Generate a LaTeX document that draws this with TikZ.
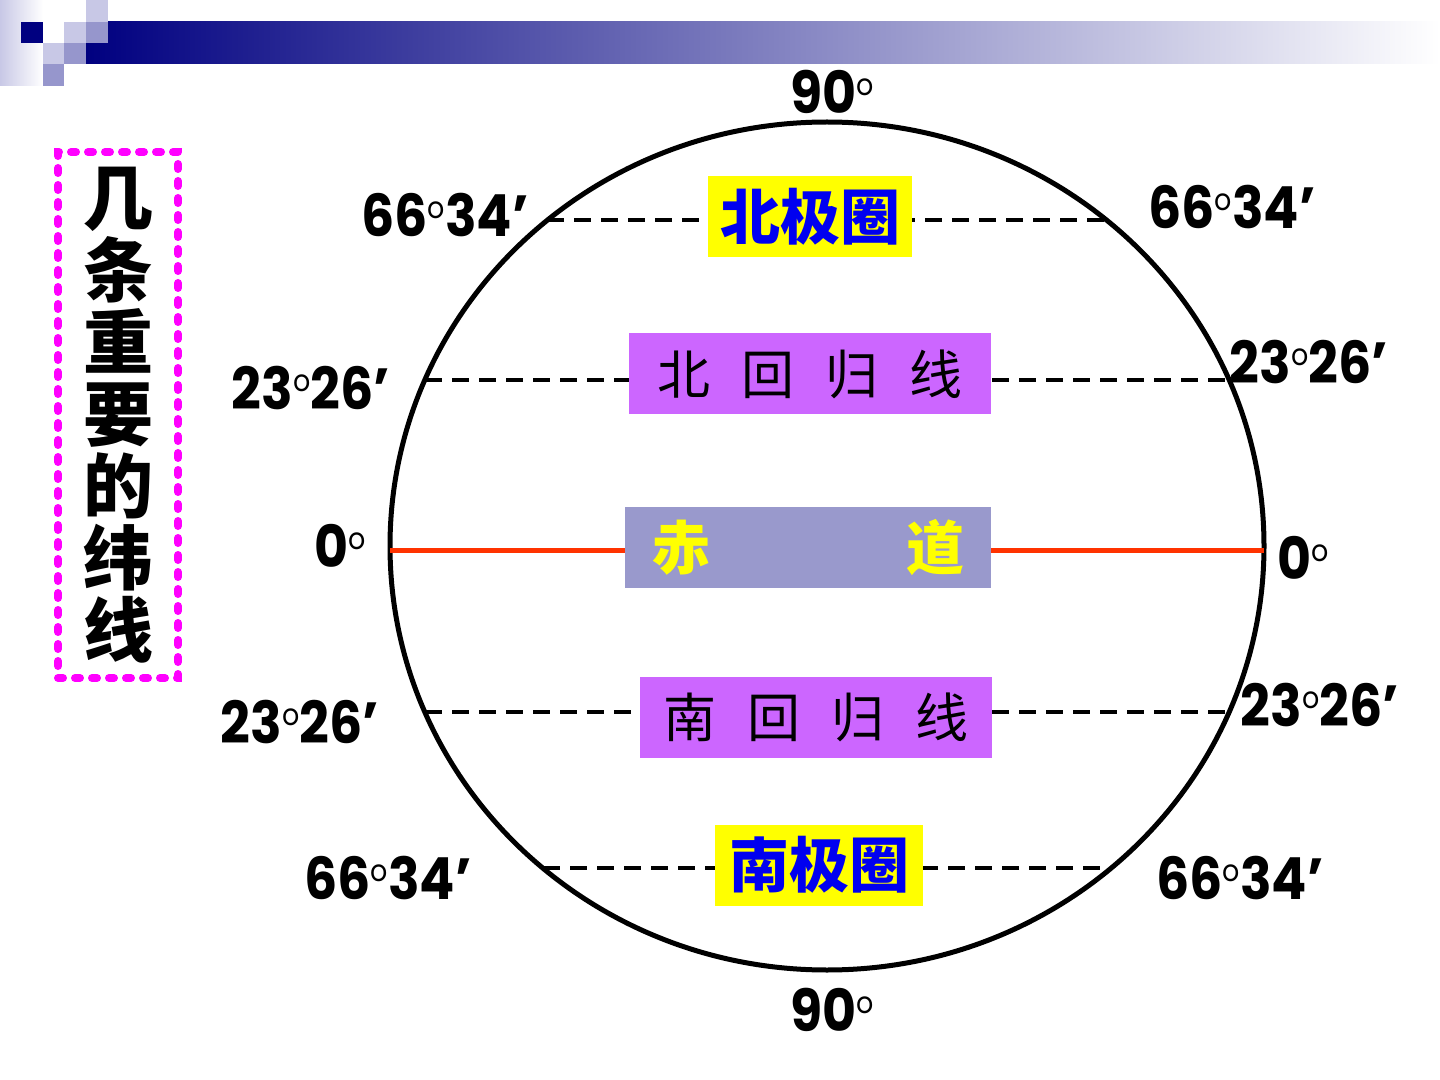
\documentclass[tikz,border=0pt]{standalone}
\usepackage{fontspec}
\newfontfamily\degfont{Poppins}[FakeStretch=0.9]
\newfontfamily\cjk{Noto Sans CJK SC}
\usetikzlibrary{positioning}

\definecolor{navy}{RGB}{0,0,128}
\definecolor{lightsq}{RGB}{200,200,230}
\definecolor{midsq}{RGB}{150,150,204}
\definecolor{polaryellow}{RGB}{255,255,0}
\definecolor{polarblue}{RGB}{0,0,240}
\definecolor{tropicpurple}{RGB}{204,102,255}
\definecolor{equatorgrey}{RGB}{153,153,204}
\definecolor{equatorred}{RGB}{255,51,0}
\definecolor{framemagenta}{RGB}{255,0,255}

% small raised ring used as degree mark
\newcommand{\dg}{\raisebox{9pt}{\mdseries\fontsize{15}{15}\selectfont o}}

\begin{document}
\begin{tikzpicture}[
    x=0.5pt, y=-0.5pt,
    deg/.style={font=\degfont\bfseries\fontsize{29}{29}\selectfont, inner sep=0pt},
    band/.style={inner sep=0pt, minimum height=40.5pt},
    polarbox/.style={band, fill=polaryellow, text=polarblue, font=\cjk\bfseries\fontsize{30}{30}\selectfont},
    tropicbox/.style={band, fill=tropicpurple, font=\cjk\fontsize{26.5}{26.5}\selectfont},
    equatorbox/.style={band, fill=equatorgrey, text=polaryellow, font=\cjk\bfseries\fontsize{29}{29}\selectfont},
    latline/.style={dash pattern=on 8.5pt off 5pt, line width=1.6pt},
    eqline/.style={equatorred, line width=2.5pt}
]
\useasboundingbox (0,0) rectangle (1440,1080);

% header bar
\shade[left color=lightsq, right color=white] (0,0) rectangle (43,86);
\shade[left color=navy, right color=white] (86,22) rectangle (1440,64);
\fill[navy] (21,22) rectangle (43,43);
\fill[lightsq] (86,0) rectangle (108,22);
\fill[midsq] (86,22) rectangle (108,43);
\fill[lightsq] (64,22) rectangle (86,43);
\fill[midsq] (64,43) rectangle (86,64);
\fill[lightsq] (43,43) rectangle (64,64);
\fill[midsq] (43,64) rectangle (64,86);

% title column
\node[draw=framemagenta, line width=4pt, dash pattern=on 2.5pt off 6pt, line cap=round,
      minimum width=60pt, minimum height=263pt, inner sep=0pt, align=center,
      font=\cjk\bfseries\fontsize{35}{36}\selectfont] (title) at (118,415)
      {几\\条\\重\\要\\的\\纬\\线};

% globe
\draw[line width=2.5pt] (827,546) ellipse [x radius=437, y radius=424];

% latitude ends on the globe
\coordinate (n66w) at (547,220);  \coordinate (n66e) at (1107,220);
\coordinate (n23w) at (425,380);  \coordinate (n23e) at (1229,380);
\coordinate (eqw)  at (390,550);  \coordinate (eqe)  at (1264,550);
\coordinate (s23w) at (425,712);  \coordinate (s23e) at (1229,712);
\coordinate (s66w) at (543,868);  \coordinate (s66e) at (1111,868);

\draw[latline] (n66w) -- (n66e);
\draw[latline] (n23w) -- (n23e);
\draw[eqline]  (eqw) -- (eqe);
\draw[latline] (s23w) -- (s23e);
\draw[latline] (s66w) -- (s66e);

% bands
\node[polarbox, minimum width=102pt] (arctic) at (810,216.5) {北极圈};
\node[tropicbox, minimum width=181pt] (cancer) at (810,374) {北\hspace{.58em}回\hspace{.58em}归\hspace{.58em}线\hspace{13pt}};
\node[equatorbox, minimum width=183pt] (equator) at (808,547.5) {赤\hspace{98pt}道};
\node[tropicbox, minimum width=176pt] (capricorn) at (816,717) {南\hspace{.58em}回\hspace{.58em}归\hspace{.58em}线\hspace{8pt}};
\node[polarbox, minimum width=104pt] (antarctic) at (819,865) {南极圈};

% degree labels
\node[deg] (polen) at (832,92) {90\dg};
\node[deg] (poles) at (832,1010) {90\dg};
\node[deg] (n66l) at (445,215) {66\dg34’};
\node[deg] (n66r) at (1232,207) {66\dg34’};
\node[deg] (n23l) at (311,388) {23\dg26’};
\node[deg] (n23r) at (1309,362) {23\dg26’};
\node[deg] (eql) at (340,546) {0\dg};
\node[deg] (eqr) at (1303,558) {0\dg};
\node[deg] (s23l) at (300,722) {23\dg26’};
\node[deg] (s23r) at (1320,705) {23\dg26’};
\node[deg] (s66l) at (388,878) {66\dg34’};
\node[deg] (s66r) at (1240,878) {66\dg34’};

\end{tikzpicture}
\end{document}
